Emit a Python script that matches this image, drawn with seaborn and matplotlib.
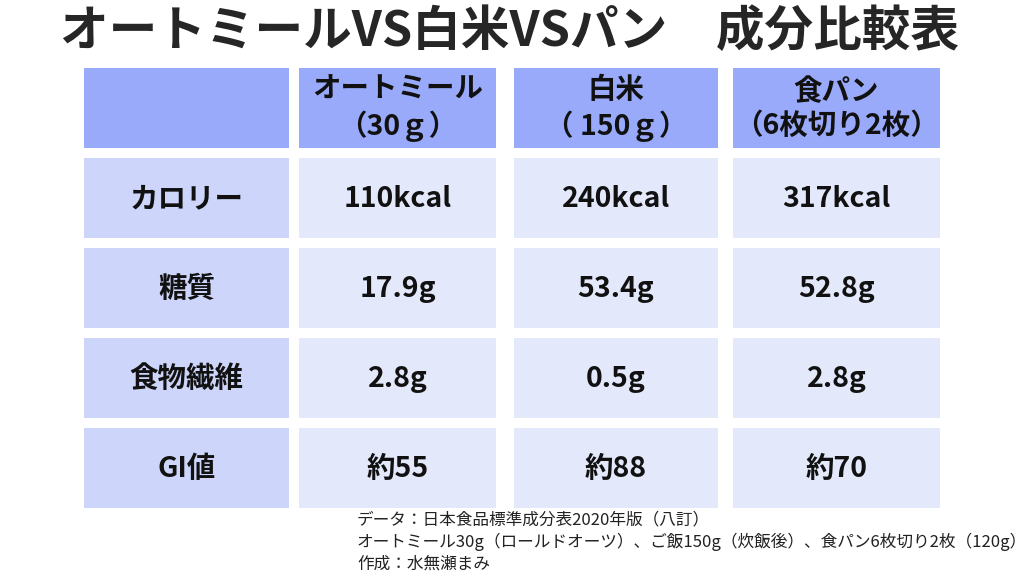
import matplotlib.pyplot as plt
import seaborn as sns
from matplotlib.patches import Rectangle

sns.set_theme(style="white")
plt.rcParams['font.family'] = ['Noto Sans CJK JP', 'DejaVu Sans']

title = "オートミールVS白米VSパン　成分比較表"
headers = ["", "オートミール\n（30ｇ）", "白米\n（ 150ｇ）", "食パン\n（6枚切り2枚）"]
row_labels = ["カロリー", "糖質", "食物繊維", "GI値"]
oatmeal = ["110kcal", "17.9g", "2.8g", "約55"]
rice = ["240kcal", "53.4g", "0.5g", "約88"]
bread = ["317kcal", "52.8g", "2.8g", "約70"]
notes = ["データ：日本食品標準成分表2020年版（八訂）",
         "オートミール30g（ロールドオーツ）、ご飯150g（炊飯後）、食パン6枚切り2枚（120g）",
         "作成：水無瀬まみ"]

col_x = [(84, 289), (299, 496), (514, 718), (733, 940)]
row_y = [(68, 148), (158, 238), (248, 328), (338, 418), (428, 508)]
c_head, c_label, c_data = "#9aaafa", "#cdd6fa", "#e3e8fb"

fig = plt.figure(figsize=(10.24, 5.76), dpi=100)
ax = fig.add_axes([0, 0, 1, 1])
ax.set_xlim(0, 1024)
ax.set_ylim(576, 0)
ax.axis("off")

ax.text(510, 32, title, ha="center", va="center", fontsize=35, fontweight="bold")

columns = [row_labels, oatmeal, rice, bread]
for ci, (x0, x1) in enumerate(col_x):
    for ri, (y0, y1) in enumerate(row_y):
        if ri == 0:
            color, txt = c_head, headers[ci]
        else:
            color = c_label if ci == 0 else c_data
            txt = columns[ci][ri - 1]
        ax.add_patch(Rectangle((x0, y0), x1 - x0, y1 - y0, color=color, lw=0))
        ax.text((x0 + x1) / 2, (y0 + y1) / 2 + 1, txt, ha="center", va="center",
                fontsize=20.5, fontweight="bold", linespacing=1.3, color="#111111")

for i, n in enumerate(notes):
    ax.text(357, 520 + i * 22, n, ha="left", va="center", fontsize=12, color="#222222")

fig.savefig("out.png", dpi=100)
